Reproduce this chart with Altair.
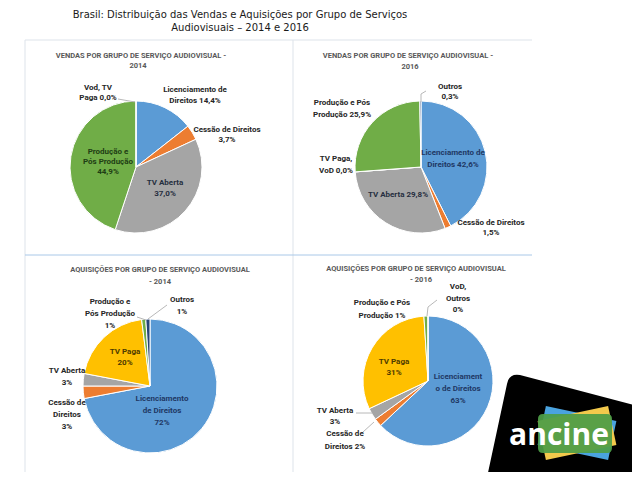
import altair as alt
import numpy as np
import pandas as pd

# ---------------- DATA ----------------
TITULO = ["Brasil: Distribuição das Vendas e Aquisições por Grupo de Serviços",
          "Audiovisuais – 2014 e 2016"]

PAINEL_TITULOS = [
    ["VENDAS POR GRUPO DE SERVIÇO AUDIOVISUAL -", "2014"],
    ["VENDAS POR GRUPO DE SERVIÇO AUDIOVISUAL -", "2016"],
    ["AQUISIÇÕES POR GRUPO DE SERVIÇO AUDIOVISUAL", "- 2014"],
    ["AQUISIÇÕES POR GRUPO DE SERVIÇO AUDIOVISUAL", "- 2016"],
]

GRUPOS = ["Licenciamento", "Cessão", "TV Aberta", "TV Paga", "Produção", "Outros"]

vendas_2014_grupo = ["Licenciamento", "Cessão", "TV Aberta", "Produção", "TV Paga"]
vendas_2014_valor = [14.4, 3.7, 37.0, 44.9, 0.0]
vendas_2014_rotulo = [["Licenciamento de", "Direitos  {v}"], ["Cessão de Direitos", "{v}"],
                      ["TV Aberta", "{v}"], ["Produção e", "Pós Produção", "{v}"],
                      ["Vod, TV", "Paga {v}"]]

vendas_2016_grupo = ["Licenciamento", "Cessão", "TV Aberta", "TV Paga", "Produção", "Outros"]
vendas_2016_valor = [42.6, 1.5, 29.8, 0.0, 25.9, 0.3]
vendas_2016_rotulo = [["Licenciamento de", "Direitos {v}"], ["Cessão de Direitos", "{v}"],
                      ["TV Aberta {v}"], ["TV Paga,", "VoD {v}"],
                      ["Produção e Pós", "Produção  {v}"], ["Outros", "{v}"]]

aquis_2014_grupo = ["Licenciamento", "Cessão", "TV Aberta", "TV Paga", "Produção", "Outros"]
aquis_2014_valor = [72, 3, 3, 20, 1, 1]
aquis_2014_rotulo = [["Licenciamento", "de Direitos", "{v}"], ["Cessão de", "Direitos", "{v}"],
                     ["TV Aberta", "{v}"], ["TV Paga", "{v}"],
                     ["Produção e", "Pós Produção", "{v}"], ["Outros", "{v}"]]

aquis_2016_grupo = ["Licenciamento", "Cessão", "TV Aberta", "TV Paga", "Produção", "Outros"]
aquis_2016_valor = [63, 2, 3, 31, 1, 0]
aquis_2016_rotulo = [["Licenciament", "o de Direitos", "{v}"], ["Cessão de", "Direitos {v}"],
                     ["TV Aberta", "{v}"], ["TV Paga", "{v}"],
                     ["Produção e Pós", "Produção  {v}"], ["VoD,", "Outros", "{v}"]]

# ---------------- STYLE / LAYOUT ----------------
CORES = ["#5B9BD5", "#ED7D31", "#A5A5A5", "#FFC000", "#70AD47", "#264478"]
OFF = 8  # page margin

PIES = [(136, 167, 66), (421, 167, 66), (150, 386, 67), (428, 381, 65)]
LABEL_POS = [
    [(195, 90, 11, "out"), (227, 130, 10, "out"), (165, 183, 11, "gray"),
     (108, 152, 10, "green"), (98, 88, 10, "out")],
    [(453, 153, 12, "blue"), (491, 223, 10, "out"), (398, 195, 11, "gray"),
     (336, 159, 12, "out"), (342, 103, 12, "out"), (450, 87, 10, "out")],
    [(162, 399, 12, "blue"), (67, 403, 12, "out"), (67, 371, 12, "out"),
     (125, 352, 11, "yellow"), (110, 302, 12, "out"), (182, 300, 12, "out")],
    [(458, 377, 12, "blue"), (345, 434, 13, "out"), (335, 411, 11, "out"),
     (394, 362, 11, "yellow"), (382, 303, 13, "out"), (458, 287, 11.5, "out")],
]
PANEL_TITLE_POS = [[(141, 56), (138, 66)], [(408, 56), (410, 67)],
                   [(160, 270), (160, 282)], [(416, 269), (421, 280)]]
LEADERS = [(118, 99, 135, 102), (426, 91, 421, 94), (421, 94, 421, 102),
           (137, 317, 146, 320), (167, 305, 148, 319),
           (437, 300, 428, 307), (428, 307, 427, 316),
           (356, 413, 372, 413), (363, 432, 374, 422)]
BORDERS = [(25, 40, 532, 40), (25, 40, 25, 473), (293, 40, 293, 473), (25, 473, 500, 473)]
BLUE_LINES = [(25, 255, 532, 255)]

KINDS = ["out", "blue", "green", "gray", "yellow"]
KIND_COLORS = ["#262626", "#1F3864", "#1E3D14", "#262F40", "#4D3A00"]

series = [
    (vendas_2014_grupo, vendas_2014_valor, vendas_2014_rotulo, 1),
    (vendas_2016_grupo, vendas_2016_valor, vendas_2016_rotulo, 1),
    (aquis_2014_grupo, aquis_2014_valor, aquis_2014_rotulo, 0),
    (aquis_2016_grupo, aquis_2016_valor, aquis_2016_rotulo, 0),
]


def fmt(v, dec):
    return (f"{v:.{dec}f}".replace(".", ",")) + "%"


layers = []

# panel borders
bdf = pd.DataFrame(BORDERS, columns=["x", "y", "x2", "y2"]) - OFF
layers.append(alt.Chart(bdf).mark_rule(color="#DDE3EA", strokeWidth=1).encode(
    x=alt.X("x:Q", scale=None, axis=None), y=alt.Y("y:Q", scale=None, axis=None),
    x2="x2:Q", y2="y2:Q"))
bldf = pd.DataFrame(BLUE_LINES, columns=["x", "y", "x2", "y2"]) - OFF
layers.append(alt.Chart(bldf).mark_rule(color="#A9C8E8", strokeWidth=1).encode(
    x=alt.X("x:Q", scale=None, axis=None), y=alt.Y("y:Q", scale=None, axis=None),
    x2="x2:Q", y2="y2:Q"))

# pies
label_rows = []
for (grp, val, rot, dec), (cx, cy, r), lpos in zip(series, PIES, LABEL_POS):
    df = pd.DataFrame({"grupo": grp, "valor": val, "ordem": list(range(len(val)))})
    layers.append(alt.Chart(df).mark_arc(outerRadius=r, stroke="white", strokeWidth=1).encode(
        theta=alt.Theta("valor:Q", stack=True),
        color=alt.Color("grupo:N", scale=alt.Scale(domain=GRUPOS, range=CORES), legend=None),
        order=alt.Order("ordem:Q"),
        x=alt.value(cx - OFF), y=alt.value(cy - OFF)))
    for v, lines, (lx, ly, dy, kind) in zip(val, rot, lpos):
        for i, ln in enumerate(lines):
            label_rows.append({"t": ln.replace("{v}", fmt(v, dec)),
                               "px": lx - OFF, "py": ly - OFF + i * dy, "kind": kind})

# leader lines
ldf = pd.DataFrame(LEADERS, columns=["x", "y", "x2", "y2"]) - OFF
layers.append(alt.Chart(ldf).mark_rule(color="#A6A6A6", strokeWidth=0.8).encode(
    x=alt.X("x:Q", scale=None, axis=None), y=alt.Y("y:Q", scale=None, axis=None),
    x2="x2:Q", y2="y2:Q"))

# data labels
lab = pd.DataFrame(label_rows)
layers.append(alt.Chart(lab).mark_text(font="Roboto", fontWeight="bold", fontSize=8,
                                       baseline="middle", align="center").encode(
    x=alt.X("px:Q", scale=None, axis=None), y=alt.Y("py:Q", scale=None, axis=None),
    text="t:N",
    color=alt.Color("kind:N", scale=alt.Scale(domain=KINDS, range=KIND_COLORS), legend=None)))

# panel titles
prow = []
for lines, poss in zip(PAINEL_TITULOS, PANEL_TITLE_POS):
    for ln, (px, py) in zip(lines, poss):
        prow.append({"t": ln, "px": px - OFF, "py": py - OFF})
layers.append(alt.Chart(pd.DataFrame(prow)).mark_text(
    font="Roboto", fontWeight="bold", fontSize=7.5, color="#595959",
    baseline="middle", align="center").encode(
    x=alt.X("px:Q", scale=None, axis=None), y=alt.Y("py:Q", scale=None, axis=None), text="t:N"))

# main title
tdf = pd.DataFrame({"t": TITULO, "px": [240 - OFF, 240 - OFF], "py": [18 - OFF, 31 - OFF]})
layers.append(alt.Chart(tdf).mark_text(
    font="DejaVu Sans", fontSize=10, color="#1A1A1A", baseline="alphabetic", align="center").encode(
    x=alt.X("px:Q", scale=None, axis=None), y=alt.Y("py:Q", scale=None, axis=None), text="t:N"))

# ---------------- logo (decoration) ----------------
AX, AY = 560 - OFF, 430 - OFF
one = pd.DataFrame({"a": [0]})


def rot_rect(cx, cy, w, h, ang):
    a = np.radians(ang)
    pts = []
    for dx, dy in [(-w / 2, -h / 2), (w / 2, -h / 2), (w / 2, h / 2), (-w / 2, h / 2)]:
        pts.append((cx + dx * np.cos(a) - dy * np.sin(a), cy + dx * np.sin(a) + dy * np.cos(a)))
    return "M " + " L ".join(f"{x:.1f},{y:.1f}" for x, y in pts) + " Z"


black_path = "M -74,52 L -53,-46 Q -51,-57 -40,-55 L 85,-22 L 85,52 Z"
green_path = ("M -17,-16 L 47,-16 Q 52,-16 52,-11 L 52,18 Q 52,23 47,23 L -17,23 "
              "Q -22,23 -22,18 L -22,-11 Q -22,-16 -17,-16 Z")
shapes = [
    (black_path, "#000000", 1.0),
    (rot_rect(17, 3, 72, 40, 12), "#4AA3DF", 1.0),
    (rot_rect(17, 3, 72, 40, -12), "#F2C94C", 1.0),
    (green_path, "#4E9D47", 0.93),
]
for path, col, op in shapes:
    layers.append(alt.Chart(one).mark_point(shape=path, size=4, filled=True, fill=col,
                                            opacity=op, strokeWidth=0).encode(
        x=alt.value(AX), y=alt.value(AY)))
layers.append(alt.Chart(pd.DataFrame({"t": ["ancine"]})).mark_text(
    font="Open Sans", fontWeight="bold", fontSize=30, color="white",
    align="center", baseline="alphabetic").encode(
    x=alt.value(559 - OFF), y=alt.value(445 - OFF), text="t:N"))

chart = alt.layer(*layers).resolve_scale(
    theta="independent", color="independent"
).properties(
    width=624, height=464, padding=0, autosize=alt.AutoSizeParams(type="none")
).configure_view(stroke=None)

chart.save("out.html", embed_options={"renderer": "svg", "actions": False})
